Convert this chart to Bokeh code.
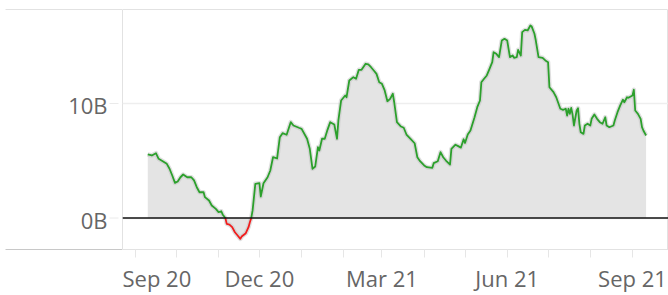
import numpy as np
import pandas as pd
from bokeh.plotting import figure
from bokeh.layouts import row
from bokeh.models import (Range1d, FixedTicker, Span, Grid, LinearAxis,
                          ColumnDataSource)
from bokeh.core.properties import value
from bokeh.embed import file_html
from bokeh.resources import INLINE

# ---------------- data (values in billions) ----------------
dates = [
    "2020-09-10", "2020-09-13", "2020-09-16", "2020-09-18", "2020-09-21", "2020-09-24",
    "2020-09-26", "2020-09-28", "2020-09-30", "2020-10-02", "2020-10-04", "2020-10-06",
    "2020-10-09", "2020-10-12", "2020-10-14", "2020-10-16", "2020-10-18", "2020-10-21",
    "2020-10-22", "2020-10-25", "2020-10-27", "2020-10-30", "2020-11-01", "2020-11-03",
    "2020-11-04", "2020-11-06", "2020-11-07", "2020-11-09", "2020-11-11", "2020-11-13",
    "2020-11-15", "2020-11-17", "2020-11-18", "2020-11-21", "2020-11-23", "2020-11-24",
    "2020-11-25", "2020-11-26", "2020-11-27", "2020-11-28", "2020-12-01", "2020-12-02",
    "2020-12-04", "2020-12-07", "2020-12-09", "2020-12-11", "2020-12-14", "2020-12-16",
    "2020-12-18", "2020-12-21", "2020-12-24", "2020-12-26", "2020-12-30", "2021-01-01",
    "2021-01-05", "2021-01-07", "2021-01-09", "2021-01-11", "2021-01-13", "2021-01-14",
    "2021-01-16", "2021-01-18", "2021-01-20", "2021-01-22", "2021-01-25", "2021-01-27",
    "2021-01-28", "2021-01-30", "2021-02-02", "2021-02-03", "2021-02-05", "2021-02-08",
    "2021-02-10", "2021-02-12", "2021-02-14", "2021-02-17", "2021-02-19", "2021-02-21",
    "2021-02-23", "2021-02-25", "2021-02-27", "2021-03-01", "2021-03-03", "2021-03-05",
    "2021-03-07", "2021-03-09", "2021-03-10", "2021-03-12", "2021-03-15", "2021-03-17",
    "2021-03-19", "2021-03-22", "2021-03-25", "2021-03-27", "2021-03-29", "2021-04-01",
    "2021-04-03", "2021-04-07", "2021-04-08", "2021-04-11", "2021-04-13", "2021-04-15",
    "2021-04-17", "2021-04-20", "2021-04-21", "2021-04-24", "2021-04-26", "2021-04-28",
    "2021-04-30", "2021-05-01", "2021-05-03", "2021-05-05", "2021-05-08", "2021-05-10",
    "2021-05-12", "2021-05-13", "2021-05-15", "2021-05-17", "2021-05-19", "2021-05-21",
    "2021-05-22", "2021-05-24", "2021-05-26", "2021-05-28", "2021-05-30", "2021-06-01",
    "2021-06-03", "2021-06-05", "2021-06-06", "2021-06-08", "2021-06-09", "2021-06-11",
    "2021-06-12", "2021-06-14", "2021-06-16", "2021-06-18", "2021-06-19", "2021-06-21",
    "2021-06-22", "2021-06-24", "2021-06-27", "2021-06-29", "2021-07-01", "2021-07-02",
    "2021-07-05", "2021-07-07", "2021-07-10", "2021-07-12", "2021-07-14", "2021-07-15",
    "2021-07-16", "2021-07-17", "2021-07-18", "2021-07-19", "2021-07-20", "2021-07-22",
    "2021-07-23", "2021-07-24", "2021-07-25", "2021-07-27", "2021-07-28", "2021-07-30",
    "2021-08-01", "2021-08-02", "2021-08-04", "2021-08-06", "2021-08-08", "2021-08-10",
    "2021-08-12", "2021-08-13", "2021-08-15", "2021-08-18", "2021-08-19", "2021-08-21",
    "2021-08-23", "2021-08-25", "2021-08-26", "2021-08-28", "2021-08-29", "2021-09-01",
    "2021-09-02", "2021-09-03", "2021-09-05", "2021-09-07", "2021-09-08", "2021-09-09",
    "2021-09-11",
]
net_values = [
    5.55, 5.46, 5.66, 5.17, 4.96, 4.73,
    4.30, 3.71, 3.07, 3.19, 3.56, 3.80,
    3.56, 3.56, 3.28, 2.69, 2.25, 2.25,
    1.82, 1.53, 1.09, 0.80, 0.51, 0.59,
    0.31, 0.00, -0.51, -0.57, -0.80, -1.24,
    -1.53, -1.82, -1.62, -1.33, -0.80, -0.37,
    0.00, 0.66, 1.82, 2.99, 3.04, 1.88,
    3.04, 3.56, 4.15, 5.31, 5.20, 7.06,
    7.41, 7.27, 8.37, 8.08, 7.88, 7.79,
    6.92, 6.04, 4.30, 4.50, 6.18, 5.90,
    6.92, 6.92, 7.70, 8.37, 8.17, 6.92,
    8.52, 10.26, 10.70, 10.55, 12.01, 12.30,
    12.16, 12.94, 12.94, 13.47, 13.41, 13.17,
    12.88, 12.59, 11.86, 11.72, 11.14, 10.20,
    10.41, 10.85, 10.11, 8.37, 7.99, 7.88,
    7.29, 6.92, 6.53, 5.31, 4.96, 4.59,
    4.44, 4.38, 4.79, 4.96, 5.75, 5.31,
    5.02, 4.67, 6.04, 6.40, 6.28, 6.15,
    6.88, 6.55, 7.30, 7.64, 8.80, 9.68,
    10.26, 11.86, 12.16, 12.45, 13.03, 13.61,
    14.48, 14.34, 14.05, 15.50, 15.65, 15.50,
    14.05, 14.19, 13.99, 14.05, 14.69, 14.19,
    16.23, 16.43, 16.38, 16.81, 16.72, 16.09,
    15.50, 14.05, 13.99, 13.76, 13.61, 11.42,
    10.99, 10.55, 9.54, 9.45, 9.54, 8.95,
    9.54, 9.10, 9.62, 9.04, 8.08, 9.39,
    9.59, 8.23, 7.49, 7.35, 8.08, 8.23,
    8.08, 8.66, 9.04, 8.66, 8.37, 8.23,
    8.80, 8.08, 7.93, 8.08, 8.52, 9.24,
    9.83, 10.33, 10.11, 10.55, 10.50, 10.70,
    11.20, 9.39, 9.10, 8.66, 7.93, 7.64,
    7.21,
]
y_ticks = [0, 10]
y_tick_labels = [f"{t}B" for t in y_ticks]
month_ticks = ["2020-09-01", "2020-10-01", "2020-11-01", "2020-12-01", "2021-01-01",
               "2021-02-01", "2021-03-01", "2021-04-01", "2021-05-01", "2021-06-01",
               "2021-07-01", "2021-08-01", "2021-09-01"]
month_labels = {"2020-09-01": "Sep 20", "2020-12-01": "Dec 20",
                "2021-03-01": "Mar 21", "2021-06-01": "Jun 21", "2021-09-01": "Sep 21"}

FONT = "Open Sans"
FONT_SIZE = "22px"
TEXT_COLOR = "#666666"


def to_ms(d):
    return int(pd.Timestamp(d).value // 10**6)


xs = np.array([to_ms(d) for d in dates], dtype=float)
vs = np.array(net_values, dtype=float)

# ---------------- ranges ----------------
DAY = 86400000.0
origin = to_ms("2020-09-01")
x_range = Range1d(origin - 9.55 * DAY, origin + 391.45 * DAY)
y_range = Range1d(-2.75, 18.21)

# ---------------- left axis pane ----------------
left = figure(width=122, height=295, output_backend="svg", toolbar_location=None,
              x_range=Range1d(0, 117), y_range=y_range,
              x_axis_location=None, y_axis_location=None,
              min_border_left=5, min_border_right=0, min_border_top=9,
              min_border_bottom=46)
left.outline_line_color = None
left.xgrid.visible = False
left.ygrid.visible = False
for place, color in (("below", "#c8c8c8"), ("above", "#e2e2e2")):
    ax = LinearAxis(ticker=FixedTicker(ticks=[]), axis_line_color=color,
                    major_tick_out=0, major_tick_in=0, minor_tick_out=0,
                    minor_tick_in=0, major_label_standoff=0,
                    major_tick_line_color=None, minor_tick_line_color=None,
                    major_label_text_font_size="0px")
    left.add_layout(ax, place)

lab_src = ColumnDataSource(dict(y=y_ticks, text=y_tick_labels,
                                x0=[104] * len(y_ticks), x1=[113] * len(y_ticks),
                                xt=[102] * len(y_ticks)))
left.segment(x0="x0", x1="x1", y0="y", y1="y", source=lab_src,
             line_color="#eaeaea", line_width=1)
left.text(x="xt", y="y", text="text", source=lab_src, text_align="right",
          text_baseline="middle", text_font=value(FONT),
          text_font_size=value(FONT_SIZE), text_color=TEXT_COLOR, y_offset=1.5)

# ---------------- main plot ----------------
p = figure(width=546, height=295, output_backend="svg", toolbar_location=None,
           x_axis_type="datetime", x_range=x_range, y_range=y_range,
           y_axis_location=None,
           min_border_left=0, min_border_right=0, min_border_top=9,
           min_border_bottom=46)
p.background_fill_color = "white"
p.border_fill_color = "white"
p.outline_line_color = "#e2e2e2"
p.xgrid.visible = False
p.ygrid.visible = False
p.add_layout(Grid(dimension=1, ticker=FixedTicker(ticks=y_ticks),
                  grid_line_color="#eeeeee", grid_line_width=1.5))

src = ColumnDataSource(dict(x=xs, y=vs, z=np.zeros_like(vs)))
p.varea(x="x", y1="z", y2="y", source=src, fill_color="#e4e4e4")

# soft halo under the line
p.line(x="x", y="y", source=src, line_color="#c4c4c4", line_width=4.5,
       line_alpha=0.55, line_join="round")

# coloured runs (green positive, red negative)
runs_x, runs_y, runs_c = [], [], []
seg_neg = [(vs[i] + vs[i + 1]) < 0 for i in range(len(vs) - 1)]
a = 0
for i in range(1, len(seg_neg) + 1):
    if i == len(seg_neg) or seg_neg[i] != seg_neg[a]:
        runs_x.append(list(xs[a:i + 1]))
        runs_y.append(list(vs[a:i + 1]))
        runs_c.append("#f01d1d" if seg_neg[a] else "#2ca02c")
        a = i
p.multi_line(xs=runs_x, ys=runs_y, line_color=runs_c, line_width=1.8,
             line_join="round")

p.add_layout(Span(location=0, dimension="width", line_color="#111111",
                  line_width=1.6))

tick_ms = [to_ms(d) for d in month_ticks]
p.xaxis.ticker = FixedTicker(ticks=tick_ms)
p.xaxis.major_label_overrides = {to_ms(d): month_labels.get(d, "") for d in month_ticks}
p.xaxis.axis_line_color = "#e2e2e2"
p.xaxis.major_tick_in = 0
p.xaxis.major_tick_out = 8
p.xaxis.major_tick_line_color = "#e6e6e6"
p.xaxis.minor_tick_line_color = None
p.xaxis.major_label_standoff = 5
p.xaxis.major_label_text_font = FONT
p.xaxis.major_label_text_font_size = FONT_SIZE
p.xaxis.major_label_text_color = TEXT_COLOR

layout = row(left, p, spacing=0)
open("out.html", "w").write(file_html(layout, INLINE))
